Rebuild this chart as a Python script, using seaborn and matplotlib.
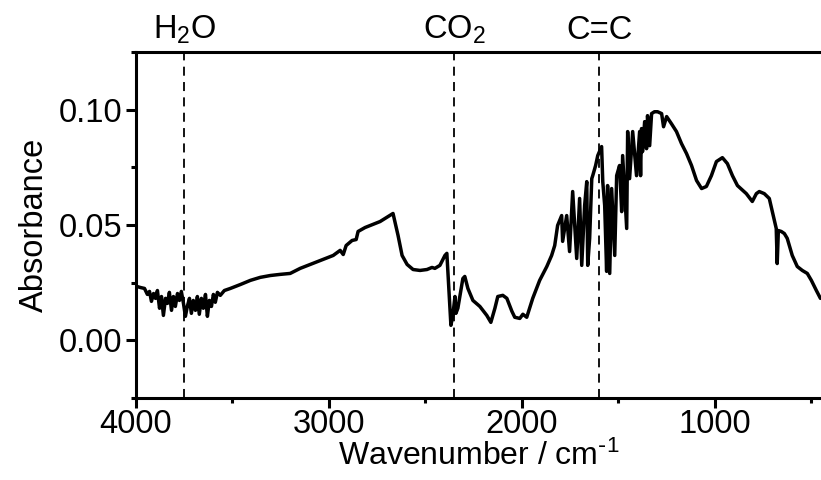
import matplotlib
matplotlib.use("Agg")
import matplotlib.pyplot as plt
import matplotlib.transforms as mtransforms
from matplotlib.ticker import MultipleLocator, FormatStrFormatter
import seaborn as sns
import pandas as pd

# ---- data ----
wavenumber = [
    3997, 3977, 3956, 3941, 3930, 3920, 3909, 3899, 3889, 3878, 3868, 3858,
    3847, 3837, 3827, 3816, 3806, 3796, 3785, 3775, 3765, 3754, 3744, 3734,
    3723, 3713, 3703, 3692, 3682, 3672, 3661, 3651, 3640, 3630, 3620, 3609,
    3599, 3589, 3578, 3563, 3542, 3511, 3459, 3407, 3356, 3304, 3252, 3201,
    3149, 3046, 2978, 2942, 2926, 2911, 2880, 2859, 2849, 2813, 2735, 2668,
    2642, 2621, 2595, 2564, 2528, 2492, 2466, 2451, 2425, 2399, 2389, 2368,
    2358, 2347, 2342, 2332, 2306, 2296, 2280, 2254, 2218, 2182, 2161, 2140,
    2125, 2099, 2078, 2052, 2037, 2011, 1995, 1975, 1944, 1908, 1871, 1846,
    1830, 1815, 1794, 1789, 1768, 1753, 1737, 1716, 1701, 1690, 1675, 1664,
    1659, 1649, 1638, 1633, 1618, 1607, 1587, 1581, 1571, 1561, 1556, 1545,
    1535, 1519, 1509, 1494, 1483, 1478, 1457, 1452, 1442, 1426, 1406, 1390,
    1385, 1380, 1375, 1364, 1354, 1349, 1338, 1328, 1313, 1297, 1276, 1266,
    1250, 1225, 1199, 1173, 1147, 1121, 1095, 1069, 1044, 1018, 992, 961,
    935, 909, 883, 837, 806, 785, 770, 744, 718, 702, 682, 677,
    671, 656, 640, 625, 599, 573, 547, 521, 500, 474, 453,
]
absorbance = [
    0.0234, 0.0229, 0.0225, 0.0199, 0.0212, 0.0169, 0.0203, 0.0182, 0.0216, 0.0139, 0.0190, 0.0108,
    0.0182, 0.0160, 0.0208, 0.0130, 0.0190, 0.0147, 0.0203, 0.0173, 0.0212, 0.0160, 0.0104, 0.0147,
    0.0182, 0.0117, 0.0173, 0.0130, 0.0190, 0.0113, 0.0182, 0.0139, 0.0199, 0.0104, 0.0173, 0.0147,
    0.0199, 0.0165, 0.0208, 0.0195, 0.0216, 0.0225, 0.0242, 0.0260, 0.0273, 0.0281, 0.0286, 0.0290,
    0.0312, 0.0346, 0.0368, 0.0390, 0.0372, 0.0411, 0.0433, 0.0437, 0.0472, 0.0489, 0.0515, 0.0550,
    0.0455, 0.0368, 0.0329, 0.0307, 0.0303, 0.0307, 0.0316, 0.0312, 0.0325, 0.0368, 0.0377, 0.0065,
    0.0108, 0.0190, 0.0117, 0.0139, 0.0268, 0.0277, 0.0225, 0.0173, 0.0147, 0.0108, 0.0078, 0.0139,
    0.0190, 0.0195, 0.0182, 0.0126, 0.0100, 0.0095, 0.0113, 0.0100, 0.0182, 0.0260, 0.0320, 0.0368,
    0.0411, 0.0498, 0.0541, 0.0429, 0.0541, 0.0385, 0.0645, 0.0355, 0.0615, 0.0325, 0.0584, 0.0688,
    0.0325, 0.0442, 0.0701, 0.0714, 0.0758, 0.0801, 0.0840, 0.0688, 0.0584, 0.0299, 0.0671, 0.0290,
    0.0658, 0.0368, 0.0714, 0.0758, 0.0558, 0.0801, 0.0485, 0.0905, 0.0701, 0.0905, 0.0714, 0.0905,
    0.0714, 0.0918, 0.0818, 0.0948, 0.0831, 0.0974, 0.0844, 0.0983, 0.0991, 0.0991, 0.0983, 0.0926,
    0.0970, 0.0939, 0.0905, 0.0853, 0.0810, 0.0758, 0.0693, 0.0658, 0.0667, 0.0714, 0.0775, 0.0792,
    0.0766, 0.0714, 0.0671, 0.0636, 0.0602, 0.0636, 0.0645, 0.0636, 0.0615, 0.0558, 0.0485, 0.0333,
    0.0476, 0.0472, 0.0463, 0.0442, 0.0368, 0.0320, 0.0303, 0.0290, 0.0260, 0.0216, 0.0182,
]
marker_positions = [3750, 2350, 1600]
marker_labels = ["H$_2$O", "CO$_2$", "C=C"]
x_ticks = [4000, 3000, 2000, 1000]
y_ticks = [0.00, 0.05, 0.10]

df = pd.DataFrame({"Wavenumber": wavenumber, "Absorbance": absorbance})

# ---- style ----
sns.set_style("ticks")
plt.rcParams["font.family"] = ["Liberation Sans", "DejaVu Sans"]
plt.rcParams["mathtext.default"] = "regular"
plt.rcParams["axes.linewidth"] = 2.2
plt.rcParams["xtick.color"] = "black"
plt.rcParams["ytick.color"] = "black"

FS = 23.5

fig = plt.figure(figsize=(8.21, 4.80), dpi=100)
ax = fig.add_axes([136 / 821, 1 - 398 / 480, 1 - 136 / 821, (398 - 52) / 480])

sns.lineplot(data=df, x="Wavenumber", y="Absorbance", ax=ax, color="black",
             linewidth=2.5, sort=False, estimator=None)

for xp in marker_positions:
    ax.axvline(xp, color="black", linewidth=1.3, linestyle=(0, (5, 3.5)), zorder=1)

trans = mtransforms.blended_transform_factory(ax.transData, ax.transAxes)
for xp, lab in zip(marker_positions, marker_labels):
    ax.annotate(lab, xy=(xp, 1.0), xycoords=trans, xytext=(0, 9.5),
                textcoords="offset points", ha="center", va="baseline",
                fontsize=FS, color="black", annotation_clip=False)

ax.set_xlim(4000, 450)
ax.set_ylim(-0.025, 0.125)
ax.set_xticks(x_ticks)
ax.set_yticks(y_ticks)
ax.xaxis.set_minor_locator(MultipleLocator(500))
ax.yaxis.set_minor_locator(MultipleLocator(0.025))
ax.yaxis.set_major_formatter(FormatStrFormatter("%.2f"))

ax.tick_params(axis="both", which="major", direction="out", length=7, width=2.2,
               labelsize=FS, colors="black")
ax.tick_params(axis="both", which="minor", direction="out", length=3.5, width=2.2,
               colors="black")
ax.tick_params(axis="x", which="major", pad=1)
ax.tick_params(axis="y", which="major", pad=3)

ax.spines["right"].set_visible(False)
for s in ["left", "top", "bottom"]:
    ax.spines[s].set_color("black")

ax.set_xlabel("Wavenumber / cm$^{\\text{-}1}$", fontsize=23, labelpad=0.5, color="black")
ax.set_ylabel("Absorbance", fontsize=FS, labelpad=6, color="black")

fig.savefig("out.png", dpi=100)
